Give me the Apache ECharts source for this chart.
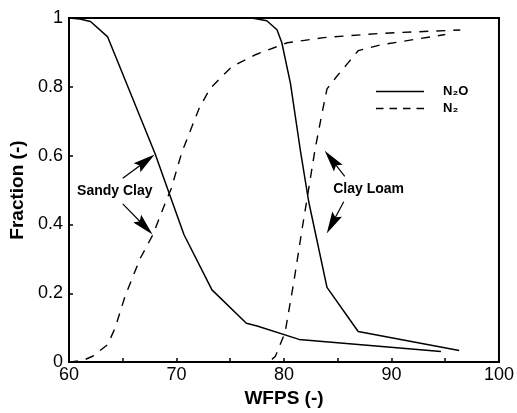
<!DOCTYPE html>
<html>
<head>
<meta charset="utf-8">
<script src="https://cdn.jsdelivr.net/npm/echarts@6/dist/echarts.min.js"></script>
<style>html,body{margin:0;padding:0;background:#fff}#c{width:517px;height:413px}</style>
</head>
<body>
<div id="c"></div>
<script>
// Sandy Clay, N2O fraction (solid)
var sandyN2O = [[60,1],[61,0.997],[62,0.99],[63.6,0.945],[68,0.606],[69.6,0.466],[70.7,0.37],[73.3,0.21],[76.5,0.113],[77.5,0.105],[81.4,0.066],[94.6,0.031]];
// Sandy Clay, N2 fraction (dashed)
var sandyN2 = [[60,0],[61.3,0.005],[62.2,0.017],[63.6,0.051],[64.3,0.1],[65.2,0.19],[66.6,0.30],[67.8,0.37],[69.0,0.466],[69.5,0.503],[70.5,0.61],[72.1,0.737],[73.1,0.794],[74.0,0.823],[75.2,0.86],[77.4,0.894],[80.3,0.928],[81.9,0.935],[83.7,0.943],[88.9,0.955],[90.8,0.958],[96.4,0.965]];
// Clay Loam, N2O fraction (solid)
var loamN2O = [[60,1],[77,1],[78.4,0.992],[79.35,0.966],[79.8,0.928],[80.6,0.81],[81.5,0.62],[82.3,0.466],[84,0.217],[86.9,0.089],[96.3,0.034]];
// Clay Loam, N2 fraction (dashed)
var loamN2 = [[60,0],[78.6,0],[79.2,0.017],[80.1,0.086],[80.9,0.23],[81.7,0.39],[82.1,0.466],[82.9,0.62],[83.5,0.717],[84,0.794],[84.9,0.83],[86,0.871],[86.9,0.905],[89,0.922],[90.8,0.931],[95,0.952]];
var xTickLabels = ['60','70','80','90','100'];
var soilNames = ['Sandy Clay','Clay Loam'];
var gasNames = ['N\u2082O','N\u2082'];

var font = '"Liberation Sans", Arial, Helvetica, sans-serif';
var chart = echarts.init(document.getElementById('c'), null, {renderer:'canvas'});

var arrowHead = 'path://M5,0L10,18L5,15L0,18Z';
function arrowLine(from, to){
  return [{coord:from, symbol:'none'},{coord:to, symbol:arrowHead, symbolSize:[11,22]}];
}
function solid(name, data, extra){
  var s = {name:name, type:'line', data:data, symbol:'none', animation:false, z:3,
    lineStyle:{color:'#000', width:1.5, type:'solid'}, itemStyle:{color:'#000'}};
  return Object.assign(s, extra||{});
}
function dashed(name, data, extra){
  var s = {name:name, type:'line', data:data, symbol:'none', animation:false, z:3,
    lineStyle:{color:'#000', width:1.4, type:[9,8]}, itemStyle:{color:'#000'}};
  return Object.assign(s, extra||{});
}
var markLineStyle = {silent:true, animation:false, label:{show:false}, lineStyle:{color:'#000', width:1.2, type:'solid', opacity:1}, itemStyle:{color:'#000'}};
var markTextLabel = function(coord, text){
  return {coord:coord, symbol:'rect', symbolSize:1, itemStyle:{color:'rgba(0,0,0,0)'},
    label:{show:true, position:'inside', formatter:text, color:'#000', fontFamily:font, fontWeight:'bold', fontSize:14}};
};

var option = {
  backgroundColor:'#fff',
  animation:false,
  grid:{left:69, top:18, right:16, bottom:45, show:true, borderColor:'#000', borderWidth:2, backgroundColor:'transparent'},
  legend:{
    left:371, top:80, orient:'vertical', itemWidth:64, itemHeight:1.5, itemGap:4,
    data:[
      {name:gasNames[0], icon:'path://M0,0H64V2H0Z'},
      {name:gasNames[1], icon:'path://M0,0H10V2H0Z M18,0H28V2H18Z M36,0H46V2H36Z M54,0H64V2H54Z'}
    ],
    itemStyle:{color:'#000', borderWidth:0},
    textStyle:{fontFamily:font, fontWeight:'bold', fontSize:13, color:'#000', padding:[0,0,0,6]},
    selectedMode:false
  },
  xAxis:{
    type:'value', min:60, max:100, interval:5,
    name:'WFPS (-)', nameLocation:'middle', nameGap:25,
    nameTextStyle:{fontFamily:font, fontWeight:'bold', fontSize:19, color:'#000'},
    axisLine:{show:true, lineStyle:{color:'#000', width:2}},
    axisTick:{show:true, inside:true, length:4, lineStyle:{color:'#000', width:1.5}},
    axisLabel:{fontFamily:font, fontSize:18, color:'#000', margin:4,
      formatter:function(v){ var i = xTickLabels.indexOf(String(v)); return i>=0 ? xTickLabels[i] : ''; }},
    splitLine:{show:false}
  },
  yAxis:{
    type:'value', min:0, max:1, interval:0.2,
    name:'Fraction (-)', nameLocation:'middle', nameGap:35, nameRotate:90,
    nameTextStyle:{fontFamily:font, fontWeight:'bold', fontSize:19, color:'#000'},
    axisLine:{show:true, lineStyle:{color:'#000', width:2}},
    axisTick:{show:true, inside:true, length:4, lineStyle:{color:'#000', width:1.5}},
    axisLabel:{fontFamily:font, fontSize:18, color:'#000', margin:6},
    splitLine:{show:false}
  },
  series:[
    solid(gasNames[0], sandyN2O, {
      markLine:Object.assign({data:[arrowLine([65.0,0.534],[67.15,0.584]), arrowLine([65.0,0.46],[67.06,0.394])]}, markLineStyle),
      markPoint:{silent:true, animation:false, data:[markTextLabel([64.26,0.497], soilNames[0])]}
    }),
    dashed(gasNames[1], sandyN2),
    solid(gasNames[0], loamN2O, {
      markLine:Object.assign({data:[arrowLine([85.65,0.54],[84.42,0.589]), arrowLine([85.56,0.466],[84.46,0.402])]}, markLineStyle),
      markPoint:{silent:true, animation:false, data:[markTextLabel([87.87,0.503], soilNames[1])]}
    }),
    dashed(gasNames[1], loamN2)
  ]
};
chart.setOption(option);
</script>
</body>
</html>
